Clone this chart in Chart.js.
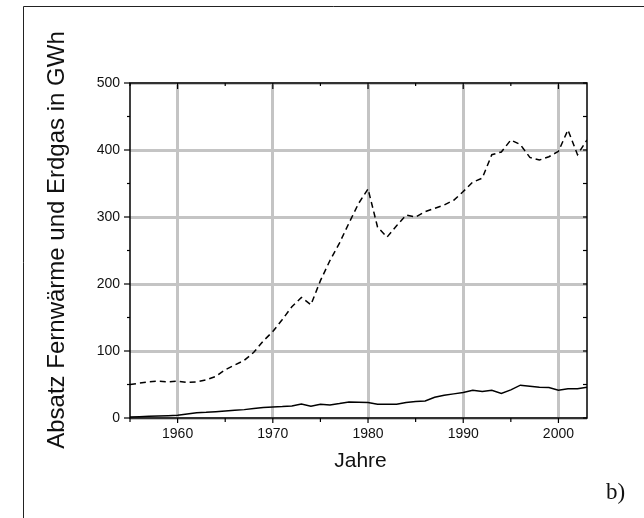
<!DOCTYPE html>
<html>
<head>
<meta charset="utf-8">
<script src="https://cdn.jsdelivr.net/npm/chart.js@4/dist/chart.umd.min.js"></script>
<style>
  html, body { margin: 0; padding: 0; background: #fff; }
  #c { display: block; }
</style>
</head>
<body>
<canvas id="c" width="644" height="518"></canvas>
<script>
// Jahre (annual values)
const years = [
  1955, 1956, 1957, 1958, 1959, 1960, 1961, 1962, 1963, 1964,
  1965, 1966, 1967, 1968, 1969, 1970, 1971, 1972, 1973, 1974,
  1975, 1976, 1977, 1978, 1979, 1980, 1981, 1982, 1983, 1984,
  1985, 1986, 1987, 1988, 1989, 1990, 1991, 1992, 1993, 1994,
  1995, 1996, 1997, 1998, 1999, 2000, 2001, 2002, 2003
];

// Erdgas-Absatz in GWh (dashed)
const erdgas = [
  50, 52, 54, 55, 54, 55, 53, 54, 57, 62,
  72, 79, 86, 98, 115, 129, 147, 166, 180, 169,
  205, 235, 261, 291, 320, 342, 285, 270, 287, 303,
  300, 308, 313, 318, 325, 338, 352, 358, 393, 397,
  415, 408, 389, 385, 390, 398, 430, 393, 415
];

// Fernwärme-Absatz in GWh (solid)
const fernwaerme = [
  1.5, 2, 2.5, 3, 3.5, 4, 6, 8, 8.5, 9.5,
  10.5, 11.5, 12.5, 14, 15.5, 16.5, 17, 18, 21, 17.5,
  20.5, 19.5, 21.5, 24, 23.5, 23, 20.5, 20.5, 20.5, 23,
  24.5, 25.5, 31, 34, 36, 38, 41.5, 39.5, 41.5, 36.5,
  42, 49, 47.5, 46, 45.5, 41.5, 43.5, 43.5, 46
];

// Axis ticks
const xMajorTicks = [1960, 1970, 1980, 1990, 2000];
const xMinorTicks = [1955, 1965, 1975, 1985, 1995];
const yMajorTicks = [0, 100, 200, 300, 400, 500];
const yMinorTicks = [50, 150, 250, 350, 450];

const xTitle = 'Jahre';
const yTitle = 'Absatz Fernwärme und Erdgas in GWh';
const panelLabel = 'b)';

const SANS = '"Liberation Sans", Arial, Helvetica, sans-serif';
const SERIF = '"Liberation Serif", "Times New Roman", serif';

// Plot box, tick marks, axis titles and the panel frame
const decorations = {
  id: 'decorations',
  afterDatasetsDraw(chart) {
    const { ctx, chartArea: a, scales: { x, y } } = chart;
    ctx.save();
    ctx.strokeStyle = '#000';
    ctx.lineWidth = 1.5;
    ctx.strokeRect(a.left, a.top, a.right - a.left, a.bottom - a.top);

    ctx.lineWidth = 1.2;
    const seg = (x1, y1, x2, y2) => {
      ctx.beginPath(); ctx.moveTo(x1, y1); ctx.lineTo(x2, y2); ctx.stroke();
    };
    xMajorTicks.forEach(v => {
      const p = x.getPixelForValue(v);
      seg(p, a.bottom, p, a.bottom + 5);
      seg(p, a.top, p, a.top + 6);
    });
    xMinorTicks.forEach(v => {
      const p = x.getPixelForValue(v);
      seg(p, a.bottom, p, a.bottom + 4);
      seg(p, a.top, p, a.top + 3);
    });
    yMajorTicks.forEach(v => {
      const p = y.getPixelForValue(v);
      seg(a.left - 6, p, a.left, p);
      seg(a.right - 4, p, a.right, p);
    });
    yMinorTicks.forEach(v => {
      const p = y.getPixelForValue(v);
      seg(a.left - 3, p, a.left, p);
      seg(a.right - 4, p, a.right, p);
    });
    ctx.restore();
  },
  afterDraw(chart) {
    const { ctx, chartArea: a } = chart;
    ctx.save();
    // panel frame (open to the right and bottom)
    ctx.strokeStyle = '#222';
    ctx.lineWidth = 1;
    ctx.beginPath();
    ctx.moveTo(23.5, chart.height);
    ctx.lineTo(23.5, 6.5);
    ctx.lineTo(chart.width, 6.5);
    ctx.stroke();

    ctx.fillStyle = '#111';
    // x title
    ctx.font = '21px ' + SANS;
    ctx.textAlign = 'center';
    ctx.textBaseline = 'alphabetic';
    ctx.fillText(xTitle, (a.left + a.right) / 2 + 2, 467);

    // y title
    ctx.save();
    ctx.translate(63.5, 240);
    ctx.rotate(-Math.PI / 2);
    ctx.font = '24px ' + SANS;
    ctx.textAlign = 'center';
    ctx.textBaseline = 'alphabetic';
    ctx.fillText(yTitle, 0, 0);
    ctx.restore();

    // panel label
    ctx.font = '23px ' + SERIF;
    ctx.textAlign = 'left';
    ctx.textBaseline = 'alphabetic';
    ctx.fillText(panelLabel, 606, 499);
    ctx.restore();
  }
};

new Chart(document.getElementById('c'), {
  type: 'line',
  data: {
    datasets: [
      {
        label: 'Erdgas',
        data: years.map((yr, i) => ({ x: yr, y: erdgas[i] })),
        borderColor: '#000',
        borderWidth: 1.5,
        borderDash: [6, 4],
        pointRadius: 0,
        fill: false,
        tension: 0
      },
      {
        label: 'Fernwärme',
        data: years.map((yr, i) => ({ x: yr, y: fernwaerme[i] })),
        borderColor: '#000',
        borderWidth: 1.5,
        pointRadius: 0,
        fill: false,
        tension: 0
      }
    ]
  },
  options: {
    responsive: false,
    animation: false,
    devicePixelRatio: 1,
    layout: { padding: { left: 0, top: 83, right: 57, bottom: 0 } },
    plugins: {
      legend: { display: false },
      tooltip: { enabled: false }
    },
    scales: {
      x: {
        type: 'linear',
        min: 1955,
        max: 2003,
        afterBuildTicks: s => { s.ticks = xMajorTicks.map(v => ({ value: v })); },
        afterFit: s => { s.height = 100; },
        grid: { color: '#c4c4c4', lineWidth: 3, drawTicks: false },
        border: { display: false },
        ticks: {
          padding: 8,
          color: '#111',
          font: { family: SANS, size: 14 },
          maxRotation: 0,
          callback: v => String(v)
        }
      },
      y: {
        min: 0,
        max: 500,
        afterBuildTicks: s => { s.ticks = yMajorTicks.map(v => ({ value: v })); },
        afterFit: s => { s.width = 130; },
        grid: { color: '#c4c4c4', lineWidth: 3, drawTicks: false },
        border: { display: false },
        ticks: {
          padding: 10,
          color: '#111',
          font: { family: SANS, size: 14 },
          callback: v => String(v)
        }
      }
    }
  },
  plugins: [decorations]
});
</script>
</body>
</html>
